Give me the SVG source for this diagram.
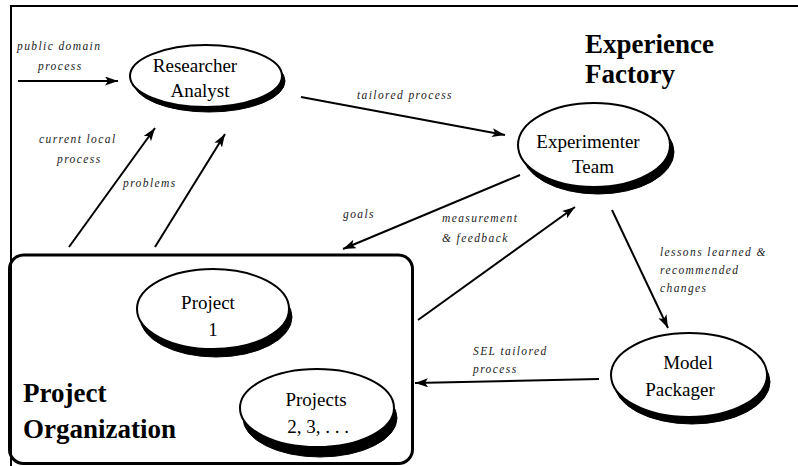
<svg xmlns="http://www.w3.org/2000/svg" width="798" height="466" viewBox="0 0 798 466">
<defs>
<marker id="ah" markerUnits="userSpaceOnUse" markerWidth="14" markerHeight="10" refX="13" refY="4.5" orient="auto">
<path d="M0,0 L13,4.5 L0,9 L3,4.5 z" fill="#000"/>
</marker>
<style>
.frame{fill:none;stroke:#000;stroke-width:2}
.box{fill:none;stroke:#000;stroke-width:3}
.sh{fill:#000;stroke:#000;stroke-width:1}
.el{fill:#fff;stroke:#000;stroke-width:2}
text{font-family:'Liberation Serif','DejaVu Serif',serif}
.nt{font-size:19px;fill:#000;text-anchor:middle}
.tt{font-size:27px;font-weight:bold;fill:#000}
.lb{font-size:11.5px;font-style:italic;letter-spacing:1.4px;fill:#222}
.cn{fill:none;stroke:#000;stroke-width:2;marker-end:url(#ah)}
</style>
</defs>
<rect width="798" height="466" fill="#fff"/>
<path class="frame" d="M11,466 L11,6 L798,6"/>
<g id="project-organization" font-family="Liberation Serif, serif">
<rect class="box" x="9.5" y="255" width="403" height="208.5" rx="14" ry="14" fill="#fff"/>
<text class="tt" x="23" y="402">Project</text>
<text class="tt" x="23" y="438">Organization</text>
</g>
<g id="experience-factory" font-family="Liberation Serif, serif">
<text class="tt" x="585" y="53">Experience</text>
<text class="tt" x="585" y="83">Factory</text>
</g>
<g id="researcher-analyst" font-family="Liberation Serif, serif">
<ellipse class="sh" cx="209" cy="81" rx="76" ry="31"/>
<ellipse class="el" cx="206" cy="76" rx="76" ry="31"/>
<text class="nt" x="195" y="72">Researcher</text>
<text class="nt" x="200" y="97">Analyst</text>
</g>
<g id="experimenter-team" font-family="Liberation Serif, serif">
<ellipse class="sh" cx="598" cy="152" rx="76" ry="42"/>
<ellipse class="el" cx="594" cy="145" rx="76" ry="42"/>
<text class="nt" x="588" y="148">Experimenter</text>
<text class="nt" x="593" y="173">Team</text>
</g>
<g id="model-packager" font-family="Liberation Serif, serif">
<ellipse class="sh" cx="692" cy="382" rx="78" ry="42"/>
<ellipse class="el" cx="689" cy="375" rx="78" ry="42"/>
<text class="nt" x="688" y="369">Model</text>
<text class="nt" x="680" y="396">Packager</text>
</g>
<g id="project-1" font-family="Liberation Serif, serif">
<ellipse class="sh" cx="216" cy="317" rx="76" ry="40"/>
<ellipse class="el" cx="213" cy="309" rx="76" ry="40"/>
<text class="nt" x="208" y="309">Project</text>
<text class="nt" x="213" y="336">1</text>
</g>
<g id="projects-2-3" font-family="Liberation Serif, serif">
<ellipse class="sh" cx="320" cy="418" rx="77" ry="39"/>
<ellipse class="el" cx="317" cy="408" rx="77" ry="39"/>
<text class="nt" x="316" y="406">Projects</text>
<text class="nt" x="318" y="433">2, 3, . . .</text>
</g>
<g id="connectors">
<line class="cn" x1="18" y1="81" x2="118" y2="81"/>
<line class="cn" x1="69" y1="247" x2="155" y2="128"/>
<line class="cn" x1="155" y1="247" x2="225" y2="134"/>
<line class="cn" x1="301" y1="97" x2="505" y2="135"/>
<line class="cn" x1="520" y1="175" x2="343" y2="249"/>
<line class="cn" x1="418" y1="320" x2="575" y2="207"/>
<line class="cn" x1="612" y1="210" x2="668" y2="328"/>
<line class="cn" x1="599" y1="379" x2="415" y2="383"/>
</g>
<g id="labels" font-family="Liberation Serif, serif">
<text class="lb" x="17" y="50">public domain</text>
<text class="lb" x="38" y="70">process</text>
<text class="lb" x="39" y="143">current local</text>
<text class="lb" x="57" y="163">process</text>
<text class="lb" x="123" y="187">problems</text>
<text class="lb" x="357" y="99">tailored process</text>
<text class="lb" x="343" y="218">goals</text>
<text class="lb" x="442" y="222">measurement</text>
<text class="lb" x="442" y="242">&amp; feedback</text>
<text class="lb" x="660" y="256">lessons learned &amp;</text>
<text class="lb" x="660" y="274">recommended</text>
<text class="lb" x="660" y="292">changes</text>
<text class="lb" x="473" y="355">SEL tailored</text>
<text class="lb" x="473" y="373">process</text>
</g>
</svg>
